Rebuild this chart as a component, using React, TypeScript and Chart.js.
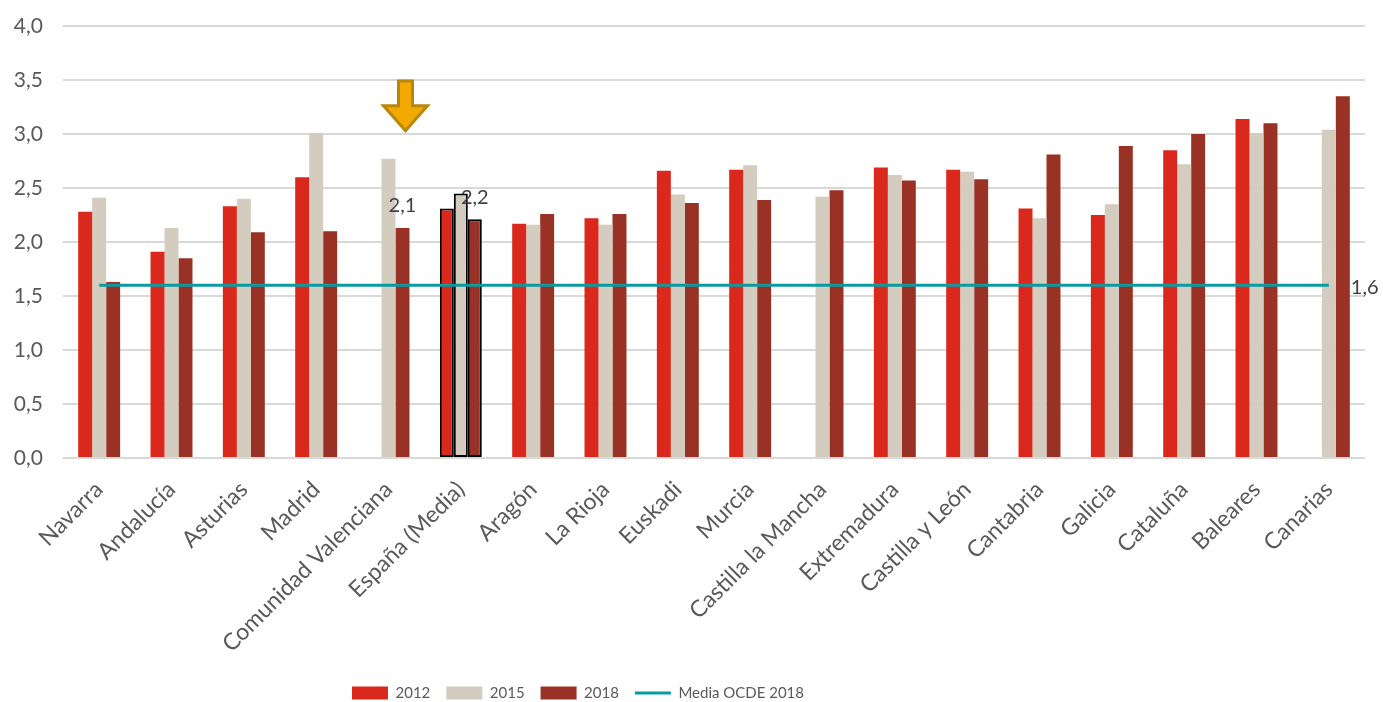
import { useEffect, useRef } from "react";
import { Chart, registerables } from "chart.js";
Chart.register(...registerables);

const categories = [
  "Navarra", "Andalucía", "Asturias", "Madrid", "Comunidad Valenciana", "España (Media)",
  "Aragón", "La Rioja", "Euskadi", "Murcia", "Castilla la Mancha", "Extremadura",
  "Castilla y León", "Cantabria", "Galicia", "Cataluña", "Baleares", "Canarias",
];
const v2012 = [2.28, 1.91, 2.33, 2.6, null, 2.31, 2.17, 2.22, 2.66, 2.67, null, 2.69, 2.67, 2.31, 2.25, 2.85, 3.14, null];
const v2015 = [2.41, 2.13, 2.4, 3.01, 2.77, 2.45, 2.16, 2.16, 2.44, 2.71, 2.42, 2.62, 2.65, 2.22, 2.35, 2.72, 3.01, 3.04];
const v2018 = [1.63, 1.85, 2.09, 2.1, 2.13, 2.21, 2.26, 2.26, 2.36, 2.39, 2.48, 2.57, 2.58, 2.81, 2.89, 3.0, 3.1, 3.35];
const ocde = [1.6, 1.6, 1.6, 1.6, 1.6, 1.6, 1.6, 1.6, 1.6, 1.6, 1.6, 1.6, 1.6, 1.6, 1.6, 1.6, 1.6, 1.6];
const yTicks = [0, 0.5, 1, 1.5, 2, 2.5, 3, 3.5, 4];
// categories whose 2018 value is labelled
const labelled2018 = ["Comunidad Valenciana", "España (Media)"];
const highlighted = "España (Media)";
const arrowCategory = "Comunidad Valenciana";
const arrowFrom = 3.49;
const arrowTo = 3.03;

const C2012 = "#DA291C";
const C2015 = "#D3CCBF";
const C2018 = "#993224";
const TEAL = "#0A9AA2";
const FONT = "Lato, 'Noto Sans', sans-serif";
const PLOT_TOP = 26;
const PLOT_BOTTOM = 458;
const LEGEND_CENTER_Y = 693;
const LEGEND_CENTER_X = 578;
const LEGEND_PAD = 16;
const LEGEND_FONT = 15;
const fmt = (v: number) => v.toFixed(1).replace(".", ",");

const legendPlacer = {
  id: "legendPlacer",
  afterLayout(chart: any) {
    const lg = chart.legend;
    if (!lg) return;
    const dy = LEGEND_CENTER_Y - (lg.top + LEGEND_PAD + LEGEND_FONT / 2);
    lg.top += dy;
    lg.bottom += dy;
    const total = lg.lineWidths ? lg.lineWidths[0] : 0;
    const start = (lg.left + LEGEND_PAD + lg.right - total) / 2;
    const curCenter = start + (total - LEGEND_PAD) / 2;
    const dx = LEGEND_CENTER_X - curCenter;
    lg.left += dx;
    lg.right += dx;
  },
};

const annotations = {
  id: "annotations",
  afterDatasetsDraw(chart: any) {
    const ctx = chart.ctx;
    const y = chart.scales.y;
    const meta18 = chart.getDatasetMeta(2);
    ctx.save();
    ctx.font = `20px ${FONT}`;
    ctx.fillStyle = "#404040";
    ctx.textAlign = "center";
    ctx.textBaseline = "middle";
    labelled2018.forEach((name) => {
      const i = categories.indexOf(name);
      const el = meta18.data[i];
      ctx.fillText(fmt(v2018[i]), el.x, el.y - 22);
    });
    // OCDE label
    const lineMeta = chart.getDatasetMeta(3);
    const last = lineMeta.data[lineMeta.data.length - 1];
    ctx.textAlign = "left";
    ctx.fillText(fmt(ocde[ocde.length - 1]), last.x + 22, last.y + 2);
    // arrow
    const ai = categories.indexOf(arrowCategory);
    const ax = meta18.data[ai].x + 3;
    const top = y.getPixelForValue(arrowFrom);
    const tip = y.getPixelForValue(arrowTo);
    const headStart = tip - 25;
    ctx.beginPath();
    ctx.moveTo(ax - 7, top);
    ctx.lineTo(ax + 7, top);
    ctx.lineTo(ax + 7, headStart);
    ctx.lineTo(ax + 22, headStart);
    ctx.lineTo(ax, tip);
    ctx.lineTo(ax - 22, headStart);
    ctx.lineTo(ax - 7, headStart);
    ctx.closePath();
    ctx.fillStyle = "#F2A900";
    ctx.fill();
    ctx.lineWidth = 3;
    ctx.lineJoin = "miter";
    ctx.strokeStyle = "#B8860B";
    ctx.stroke();
    ctx.restore();
  },
};

export default function App() {
  const ref = useRef<HTMLCanvasElement>(null);
  useEffect(() => {
    document.body.style.margin = "0";
    const hi = categories.indexOf(highlighted);
    const bw = categories.map((_, i) => (i === hi ? 2 : 0));
    const barCommon = {
      borderColor: "#000000",
      borderWidth: bw,
      borderSkipped: false,
      categoryPercentage: 0.58,
      barPercentage: 1,
      order: 1,
    };
    const chart = new Chart(ref.current!, {
      type: "bar",
      data: {
        labels: categories,
        datasets: [
          { label: "2012", data: v2012, backgroundColor: C2012, ...barCommon } as any,
          { label: "2015", data: v2015, backgroundColor: C2015, ...barCommon } as any,
          { label: "2018", data: v2018, backgroundColor: C2018, ...barCommon } as any,
          {
            type: "line",
            label: "Media OCDE 2018",
            data: ocde,
            borderColor: TEAL,
            backgroundColor: TEAL,
            borderWidth: 3,
            pointRadius: 0,
            pointBorderWidth: 0,
            pointHitRadius: 0,
            fill: false,
            order: 0,
          } as any,
        ],
      },
      options: {
        animation: false,
        responsive: false,
        devicePixelRatio: 1,
        layout: { padding: { top: PLOT_TOP, right: 18, left: 0, bottom: 0 } },
        plugins: {
          tooltip: { enabled: false },
          legend: {
            position: "bottom",
            labels: {
              usePointStyle: true,
              pointStyleWidth: 36,
              boxHeight: 13,
              padding: LEGEND_PAD,
              color: "#595959",
              font: { family: FONT, size: LEGEND_FONT },
              sort: (a: any, b: any) => a.datasetIndex - b.datasetIndex,
              generateLabels: (c: any) => {
                const items = (Chart.defaults.plugins.legend.labels as any).generateLabels(c);
                return items.map((it: any) => {
                  const ds = c.data.datasets[it.datasetIndex];
                  if (ds.type === "line") {
                    return { ...it, pointStyle: "line", lineWidth: 3, strokeStyle: TEAL, fillStyle: TEAL };
                  }
                  return { ...it, pointStyle: "rect", lineWidth: 0, strokeStyle: ds.backgroundColor, fillStyle: ds.backgroundColor };
                });
              },
            },
          },
        },
        scales: {
          x: {
            grid: { display: false },
            border: { display: false },
            ticks: {
              autoSkip: false,
              maxRotation: 45,
              minRotation: 45,
              padding: 10,
              color: "#595959",
              font: { family: FONT, size: 23 },
            },
            afterFit: (s: any) => {
              const lgH = s.chart.legend && s.chart.legend.height ? s.chart.legend.height : 49;
              s.height = s.chart.height - lgH - PLOT_BOTTOM;
              s.paddingLeft = 0;
              s.paddingRight = 0;
            },
          },
          y: {
            min: 0,
            max: 4,
            afterBuildTicks: (s: any) => {
              s.ticks = yTicks.map((v) => ({ value: v }));
            },
            grid: { color: "#D9D9D9", lineWidth: 2, drawTicks: false },
            border: { display: false },
            ticks: {
              padding: 20,
              color: "#595959",
              font: { family: FONT, size: 21 },
              callback: (v: any) => fmt(Number(v)),
            },
            afterFit: (s: any) => {
              s.width = 63;
              s.paddingTop = 0;
              s.paddingBottom = 0;
            },
          },
        },
      },
      plugins: [annotations, legendPlacer],
    } as any);
    return () => chart.destroy();
  }, []);
  return (
    <div style={{ width: 1383, height: 702 }}>
      <canvas ref={ref} width={1383} height={702} />
    </div>
  );
}
